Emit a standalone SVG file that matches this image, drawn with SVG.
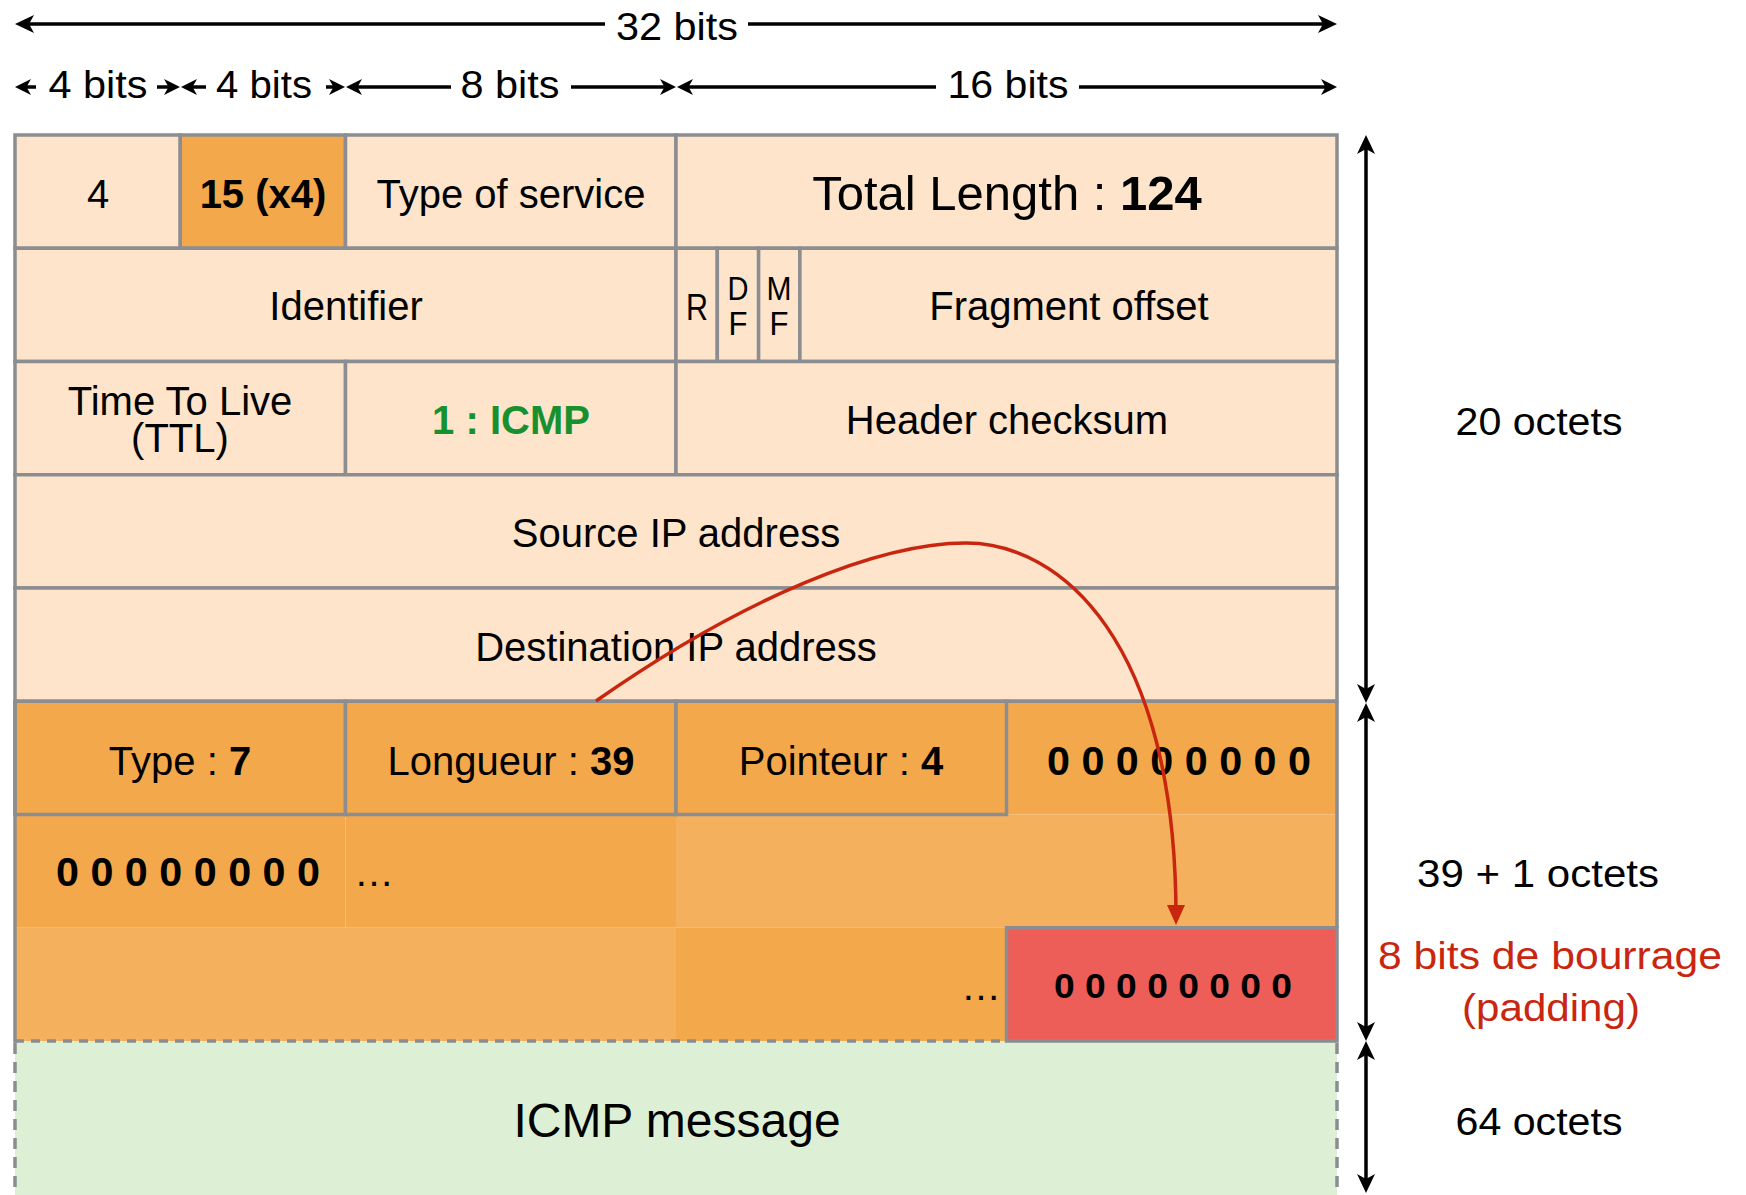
<svg xmlns="http://www.w3.org/2000/svg" width="1746" height="1195" viewBox="0 0 1746 1195">
  <style>
    text { font-family: "Liberation Sans", Arial, sans-serif; fill: #000; text-anchor: middle; }
    .f40 { font-size: 40px; }
    .dim { font-size: 39px; }
    .side { font-size: 38px; }
    .flag { font-size: 33px; }
    .b { font-weight: bold; }
    .cell { stroke: #8b8d90; stroke-width: 3.5; }
    .peach { fill: #fde4ca; }
    .org { fill: #f4a84c; }
    .lorg { fill: #f5b05e; }
    .red { fill: #ec5e57; }
    .green { fill: #ddf0d6; }
    .dimline { stroke: #000; stroke-width: 3.5; fill: none; }
    .border { stroke: #8b8d90; stroke-width: 3.5; fill: none; }
    .dash { stroke: #8b8d90; stroke-width: 3.5; fill: none; stroke-dasharray: 11 8; }
    .fine { stroke: #8b8d90; stroke-width: 3.5; fill: none; stroke-dasharray: 9 7; }
    .redtxt { fill: #c9260f; }
  </style>
  <defs>
    <marker id="ah" markerUnits="userSpaceOnUse" markerWidth="24" markerHeight="24" viewBox="-24 -12 24 24" refX="-8" refY="0" orient="auto-start-reverse">
      <path d="M0,0 L-19,-9 L-14,0 L-19,9 Z" fill="#000"/>
    </marker>
    <marker id="ahs" markerUnits="userSpaceOnUse" markerWidth="20" markerHeight="20" viewBox="-20 -10 20 20" refX="-7" refY="0" orient="auto-start-reverse">
      <path d="M0,0 L-16,-8 L-11.5,0 L-16,8 Z" fill="#000"/>
    </marker>
    <marker id="ahr" markerUnits="userSpaceOnUse" markerWidth="24" markerHeight="24" viewBox="-24 -12 24 24" refX="-8" refY="0" orient="auto">
      <path d="M0,0 L-20,-9 L-20,9 Z" fill="#c9260f"/>
    </marker>
  </defs>

  <rect x="0" y="0" width="1746" height="1195" fill="#fff"/>

  <!-- bit-width dimensions along the top -->
  <g id="bit-dimensions">
    <line class="dimline" x1="605" y1="24" x2="23" y2="24" marker-end="url(#ah)"/>
    <line class="dimline" x1="748" y1="24" x2="1329" y2="24" marker-end="url(#ah)"/>
    <text class="dim" x="677" y="40" textLength="122" lengthAdjust="spacingAndGlyphs">32 bits</text>

    <line class="dimline" x1="36" y1="87" x2="22" y2="87" marker-end="url(#ahs)"/>
    <line class="dimline" x1="157" y1="87" x2="173" y2="87" marker-end="url(#ahs)"/>
    <text class="dim" x="98" y="98" textLength="99" lengthAdjust="spacingAndGlyphs">4 bits</text>

    <line class="dimline" x1="206" y1="87" x2="188" y2="87" marker-end="url(#ahs)"/>
    <line class="dimline" x1="326" y1="87" x2="338" y2="87" marker-end="url(#ahs)"/>
    <text class="dim" x="264" y="98" textLength="96" lengthAdjust="spacingAndGlyphs">4 bits</text>

    <line class="dimline" x1="451" y1="87" x2="353" y2="87" marker-end="url(#ahs)"/>
    <line class="dimline" x1="571" y1="87" x2="669" y2="87" marker-end="url(#ahs)"/>
    <text class="dim" x="510" y="98" textLength="99" lengthAdjust="spacingAndGlyphs">8 bits</text>

    <line class="dimline" x1="936" y1="87" x2="684" y2="87" marker-end="url(#ahs)"/>
    <line class="dimline" x1="1079" y1="87" x2="1330" y2="87" marker-end="url(#ahs)"/>
    <text class="dim" x="1008" y="98" textLength="121" lengthAdjust="spacingAndGlyphs">16 bits</text>
  </g>

  <!-- IP header, row 1 -->
  <g id="version"><rect class="cell peach" x="15" y="135" width="165.25" height="113.25"/><text class="f40" x="98" y="208">4</text></g>
  <g id="ihl"><rect class="cell org" x="180.25" y="135" width="165.25" height="113.25"/><text class="f40 b" x="263" y="208">15 (x4)</text></g>
  <g id="tos"><rect class="cell peach" x="345.5" y="135" width="330.5" height="113.25"/><text class="f40" x="511" y="208">Type of service</text></g>
  <g id="total-length"><rect class="cell peach" x="676" y="135" width="661" height="113.25"/><text x="1007" y="210" font-size="49">Total Length : <tspan class="b">124</tspan></text></g>

  <!-- row 2 -->
  <g id="identifier"><rect class="cell peach" x="15" y="248.25" width="661" height="113.25"/><text class="f40" x="346" y="320">Identifier</text></g>
  <g id="flag-r"><rect class="cell peach" x="676" y="248.25" width="41.3" height="113.25"/><text x="697" y="320" font-size="36" textLength="22" lengthAdjust="spacingAndGlyphs">R</text></g>
  <g id="flag-df"><rect class="cell peach" x="717.3" y="248.25" width="41.3" height="113.25"/><text class="flag" x="738" y="300" textLength="21" lengthAdjust="spacingAndGlyphs">D</text><text class="flag" x="738" y="335" textLength="19" lengthAdjust="spacingAndGlyphs">F</text></g>
  <g id="flag-mf"><rect class="cell peach" x="758.6" y="248.25" width="41.3" height="113.25"/><text class="flag" x="779" y="300" textLength="25" lengthAdjust="spacingAndGlyphs">M</text><text class="flag" x="779" y="335" textLength="19" lengthAdjust="spacingAndGlyphs">F</text></g>
  <g id="fragment-offset"><rect class="cell peach" x="799.9" y="248.25" width="537.1" height="113.25"/><text class="f40" x="1069" y="320">Fragment offset</text></g>

  <!-- row 3 -->
  <g id="ttl"><rect class="cell peach" x="15" y="361.5" width="330.5" height="113.25"/><text class="f40" x="180" y="415">Time To Live</text><text class="f40" x="180" y="452">(TTL)</text></g>
  <g id="protocol"><rect class="cell peach" x="345.5" y="361.5" width="330.5" height="113.25"/><text class="f40 b" x="511" y="434" style="fill:#17902f">1 : ICMP</text></g>
  <g id="checksum"><rect class="cell peach" x="676" y="361.5" width="661" height="113.25"/><text class="f40" x="1007" y="434">Header checksum</text></g>

  <!-- rows 4 and 5 -->
  <g id="source-ip"><rect class="cell peach" x="15" y="474.75" width="1322" height="113.25"/><text class="f40" x="676" y="547">Source IP address</text></g>
  <g id="destination-ip"><rect class="cell peach" x="15" y="588" width="1322" height="113.25"/><text class="f40" x="676" y="661">Destination IP address</text></g>

  <!-- IP option: record route -->
  <g id="opt-data-2"><rect class="org" x="15" y="814.5" width="330.5" height="113.25"/><text class="f40 b" x="188" y="886" textLength="264" lengthAdjust="spacingAndGlyphs">0 0 0 0 0 0 0 0</text></g>
  <g id="opt-data-3"><rect class="org" x="345.5" y="814.5" width="330.5" height="113.25"/><text class="f40" x="374" y="886">…</text></g>
  <g id="opt-data-4"><rect class="lorg" x="676" y="814.5" width="661" height="113.25"/></g>
  <g id="opt-data-5"><rect class="lorg" x="15" y="927.75" width="661" height="113.25"/></g>
  <g id="opt-data-6"><rect class="org" x="676" y="927.75" width="330.5" height="113.25"/><text class="f40" x="981" y="1000">…</text></g>

  <g id="opt-data-1"><rect class="org" x="1006.5" y="701.25" width="330.5" height="113.25"/><text class="f40 b" x="1179" y="775" textLength="264" lengthAdjust="spacingAndGlyphs">0 0 0 0 0 0 0 0</text></g>
  <g id="opt-type"><rect class="cell org" x="15" y="701.25" width="330.5" height="113.25"/><text class="f40" x="180" y="775">Type : <tspan class="b">7</tspan></text></g>
  <g id="opt-length"><rect class="cell org" x="345.5" y="701.25" width="330.5" height="113.25"/><text class="f40" x="511" y="775">Longueur : <tspan class="b">39</tspan></text></g>
  <g id="opt-pointer"><rect class="cell org" x="676" y="701.25" width="330.5" height="113.25"/><text class="f40" x="841" y="775">Pointeur : <tspan class="b">4</tspan></text></g>

  <!-- ICMP payload -->
  <g id="icmp-message">
    <rect class="green" x="15" y="1041" width="1322" height="160"/>
    <line class="dash" x1="15" y1="1043" x2="15" y2="1195"/>
    <line class="dash" x1="1337" y1="1043" x2="1337" y2="1195"/>
    <text x="677" y="1137" font-size="48">ICMP message</text>
  </g>

  <!-- outer borders of the option area -->
  <line class="fine" x1="15" y1="1041" x2="1006.5" y2="1041"/>
  <line class="border" x1="15" y1="701.25" x2="15" y2="1042.75"/>
  <line class="border" x1="1337" y1="701.25" x2="1337" y2="927.75"/>
  <line class="border" x1="1004.75" y1="701.25" x2="1337" y2="701.25"/>

  <!-- padding byte -->
  <g id="padding"><rect class="cell red" x="1006.5" y="927.75" width="330.5" height="113.25"/><text class="b" x="1173" y="998" font-size="35" textLength="238" lengthAdjust="spacingAndGlyphs">0 0 0 0 0 0 0 0</text></g>

  <!-- size annotations on the right -->
  <g id="size-dimensions">
    <line class="dimline" x1="1366" y1="143" x2="1366" y2="695" marker-start="url(#ah)" marker-end="url(#ah)"/>
    <line class="dimline" x1="1366" y1="711" x2="1366" y2="1033" marker-start="url(#ah)" marker-end="url(#ah)"/>
    <line class="dimline" x1="1366" y1="1049" x2="1366" y2="1185" marker-start="url(#ah)" marker-end="url(#ah)"/>
  </g>
  <g id="label-20"><text class="side" x="1539" y="435" textLength="167" lengthAdjust="spacingAndGlyphs">20 octets</text></g>
  <g id="label-40"><text class="side" x="1538" y="887" textLength="242" lengthAdjust="spacingAndGlyphs">39 + 1 octets</text></g>
  <g id="label-padding">
    <text class="side redtxt" x="1550" y="969" textLength="344" lengthAdjust="spacingAndGlyphs">8 bits de bourrage</text>
    <text class="side redtxt" x="1551" y="1021" textLength="178" lengthAdjust="spacingAndGlyphs">(padding)</text>
  </g>
  <g id="label-64"><text class="side" x="1539" y="1135" textLength="167" lengthAdjust="spacingAndGlyphs">64 octets</text></g>

  <!-- pointer to the next free slot -->
  <g id="connectors">
    <path d="M596,701 C746,596 880,543 966,543 C1060,543 1176,640 1176,917" fill="none" stroke="#c9260f" stroke-width="3.5" marker-end="url(#ahr)"/>
  </g>
</svg>
